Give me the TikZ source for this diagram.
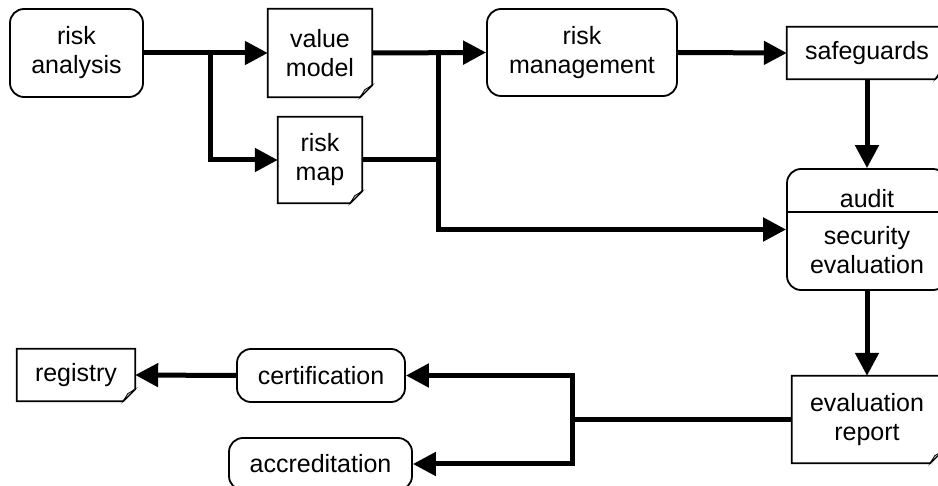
\documentclass[tikz,border=0pt]{standalone}
\usepackage{fontspec}
\setmainfont{Liberation Sans}
\usetikzlibrary{arrows.meta}
\begin{document}
\begin{tikzpicture}[x=1pt, y=-1pt, font=\fontsize{25}{29}\selectfont, line join=miter,
		box/.style={draw, line width=1.8pt, rounded corners=14pt, align=center, inner sep=0pt},
		doc/.style={align=center, inner sep=0pt},
		link/.style={line width=5pt},
		flow/.style={line width=5pt, -{Triangle[length=23pt, width=23pt]}}]
	\useasboundingbox (0,0) rectangle (938,486);
	% processes
	\node[box, minimum width=133pt, minimum height=88pt] (ra) at (76.5,53) {risk\\analysis};
	\node[box, minimum width=190pt, minimum height=87pt] (rmg) at (582,52.5) {risk\\management};
	\node[box, minimum width=160pt, minimum height=121pt] (audit) at (867,229.5) {};
	\node[box, minimum width=168pt, minimum height=53pt] (cert) at (321,375.5) {certification};
	\node[box, minimum width=183pt, minimum height=52pt] (acc) at (320.5,464) {accreditation};
	\draw[line width=1.8pt] (audit.west |- 0,212) -- (audit.east |- 0,212);
	\node (audittxt) at (867,199) {audit};
	\node[align=center] (evaltxt) at (867,250) {security\\evaluation};
	% documents
	\node[doc, minimum width=104pt, minimum height=88pt] (vm) at (320,53) {value\\model};
	\node[doc, minimum width=84pt, minimum height=86pt] (rmap) at (320,160) {risk\\map};
	\node[doc, minimum width=160pt, minimum height=52pt] (sg) at (867,53) {safeguards};
	\node[doc, minimum width=150pt, minimum height=87pt] (er) at (867,419.5) {evaluation\\report};
	\node[doc, minimum width=118pt, minimum height=52pt] (reg) at (76,375) {registry};
	\foreach \n in {vm,rmap,sg,er,reg}{
		\draw[line width=1.8pt] (\n.north west) -- (\n.north east) -- ([yshift=12pt]\n.south east)
			-- ([xshift=-12pt]\n.south east) -- (\n.south west) -- cycle;
		\draw[line width=0.8pt, fill=gray!45] ([yshift=12pt]\n.south east) -- ([xshift=-12pt]\n.south east)
			-- ([shift={(-7.5pt,7.5pt)}]\n.south east) -- cycle;
	}
	% junctions
	\coordinate (b1) at (210,53);
	\coordinate (j1) at (438,53);
	\coordinate (j2) at (572,419.5);
	% connectors
	\draw[flow] (ra.east) -- (vm.west);
	\draw[flow] (b1) |- (rmap.west);
	\draw[flow] (vm.east) -- (rmg.west);
	\draw[link] (rmap.east) -| (j1);
	\draw[flow] (j1) |- (audit.west);
	\draw[flow] (rmg.east) -- (sg.west);
	\draw[flow] (sg.south) -- (audit.north);
	\draw[flow] (audit.south) -- (er.north);
	\draw[link] (er.west) -- (j2);
	\draw[flow] (j2) |- (cert.east);
	\draw[flow] (j2) |- (acc.east);
	\draw[flow] (cert.west) -- (reg.east);
\end{tikzpicture}
\end{document}
